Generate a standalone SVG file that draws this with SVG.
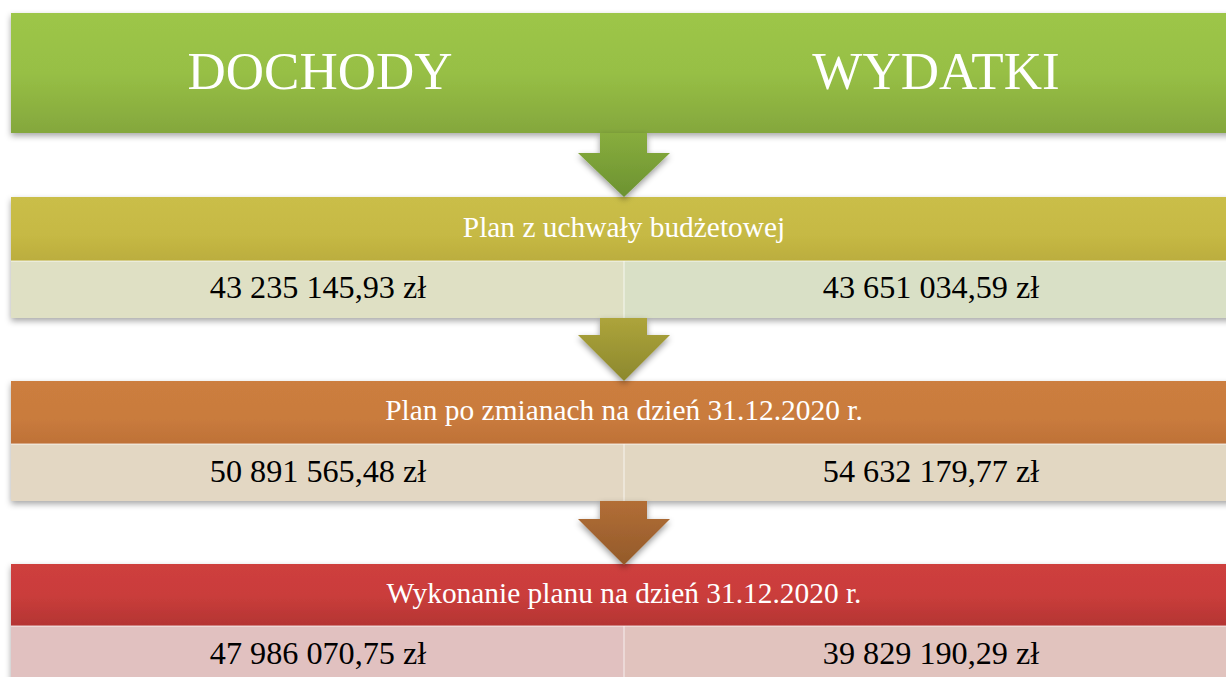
<svg xmlns="http://www.w3.org/2000/svg" width="1226" height="677" viewBox="0 0 1226 677">
<style>
.big{font-family:"Liberation Serif","Times New Roman",serif;font-size:53px;fill:#ffffff;text-anchor:middle}
.hdr{font-family:"Liberation Serif","Times New Roman",serif;font-size:29.4px;fill:#ffffff;text-anchor:middle}
.num{font-family:"Liberation Serif","Times New Roman",serif;font-size:32.2px;fill:#000000;text-anchor:middle}
.div{stroke:#ffffff;stroke-opacity:0.5;stroke-width:1.5}
</style>
<defs>
<linearGradient id="gGreen" x1="0" y1="0" x2="0" y2="1"><stop offset="0" stop-color="#9DC648"/><stop offset="0.5" stop-color="#97BF45"/><stop offset="1" stop-color="#84A73D"/></linearGradient>
<linearGradient id="gYel" x1="0" y1="0" x2="0" y2="1"><stop offset="0" stop-color="#CABE48"/><stop offset="0.6" stop-color="#C6B944"/><stop offset="1" stop-color="#BBAD3E"/></linearGradient>
<linearGradient id="gOra" x1="0" y1="0" x2="0" y2="1"><stop offset="0" stop-color="#CC7E3F"/><stop offset="0.6" stop-color="#C97B3D"/><stop offset="1" stop-color="#BE7137"/></linearGradient>
<linearGradient id="gRed" x1="0" y1="0" x2="0" y2="1"><stop offset="0" stop-color="#CE3F3D"/><stop offset="0.5" stop-color="#CA3D3B"/><stop offset="1" stop-color="#B43533"/></linearGradient>
<linearGradient id="aGreen" x1="0" y1="0" x2="0" y2="1"><stop offset="0" stop-color="#88AD3D"/><stop offset="1" stop-color="#6C9231"/></linearGradient>
<linearGradient id="aYel" x1="0" y1="0" x2="0" y2="1"><stop offset="0" stop-color="#ADA43B"/><stop offset="1" stop-color="#8C882D"/></linearGradient>
<linearGradient id="aOra" x1="0" y1="0" x2="0" y2="1"><stop offset="0" stop-color="#B26E36"/><stop offset="1" stop-color="#935A2A"/></linearGradient>
<filter id="sh" x="-5%" y="-20%" width="110%" height="150%"><feDropShadow dx="0" dy="3" stdDeviation="3" flood-color="#000000" flood-opacity="0.35"/></filter>
<filter id="ash" x="-30%" y="-20%" width="160%" height="150%"><feDropShadow dx="0" dy="3" stdDeviation="3" flood-color="#000000" flood-opacity="0.4"/></filter>
</defs>

<g id="header">
<rect x="11" y="13" width="1226" height="120" fill="url(#gGreen)" filter="url(#sh)"/>
<text class="big" x="320" y="89">DOCHODY</text>
<text class="big" x="936" y="89">WYDATKI</text>
</g>

<g id="block-uchwala">
<g filter="url(#sh)">
<rect x="11" y="197" width="1226" height="64" fill="url(#gYel)"/>
<rect x="11" y="261" width="613" height="57" fill="#DFE0C4"/>
<rect x="624" y="261" width="613" height="57" fill="#D9E0C6"/>
</g>
<line class="div" x1="11" y1="261" x2="1226" y2="261"/>
<line class="div" x1="624" y1="261" x2="624" y2="318"/>
<text class="hdr" x="624" y="237">Plan z uchwały budżetowej</text>
<text class="num" x="318" y="298">43 235 145,93 zł</text>
<text class="num" x="931" y="298">43 651 034,59 zł</text>
</g>

<g id="block-zmiany">
<g filter="url(#sh)">
<rect x="11" y="381" width="1226" height="63" fill="url(#gOra)"/>
<rect x="11" y="444" width="613" height="57" fill="#E3D7C3"/>
<rect x="624" y="444" width="613" height="57" fill="#E2D7C2"/>
</g>
<line class="div" x1="11" y1="444" x2="1226" y2="444"/>
<line class="div" x1="624" y1="444" x2="624" y2="501"/>
<text class="hdr" x="624" y="420">Plan po zmianach na dzień 31.12.2020 r.</text>
<text class="num" x="318" y="482">50 891 565,48 zł</text>
<text class="num" x="931" y="482">54 632 179,77 zł</text>
</g>

<g id="block-wykonanie">
<g filter="url(#sh)">
<rect x="11" y="564" width="1226" height="62" fill="url(#gRed)"/>
<rect x="11" y="626" width="613" height="60" fill="#E1C1C0"/>
<rect x="624" y="626" width="613" height="60" fill="#E1C3BE"/>
</g>
<line class="div" x1="11" y1="626" x2="1226" y2="626"/>
<line class="div" x1="624" y1="626" x2="624" y2="677"/>
<text class="hdr" x="624" y="603">Wykonanie planu na dzień 31.12.2020 r.</text>
<text class="num" x="318" y="664">47 986 070,75 zł</text>
<text class="num" x="931" y="664">39 829 190,29 zł</text>
</g>

<g id="connectors">
<path d="M600,133 H647 V153 H670 L624,197 L578,153 H600 Z" fill="url(#aGreen)" filter="url(#ash)"/>
<path d="M600,318 H647 V335 H670 L624,381 L578,335 H600 Z" fill="url(#aYel)" filter="url(#ash)"/>
<path d="M600,501 H647 V519 H670 L624,565 L578,519 H600 Z" fill="url(#aOra)" filter="url(#ash)"/>
</g>
</svg>
